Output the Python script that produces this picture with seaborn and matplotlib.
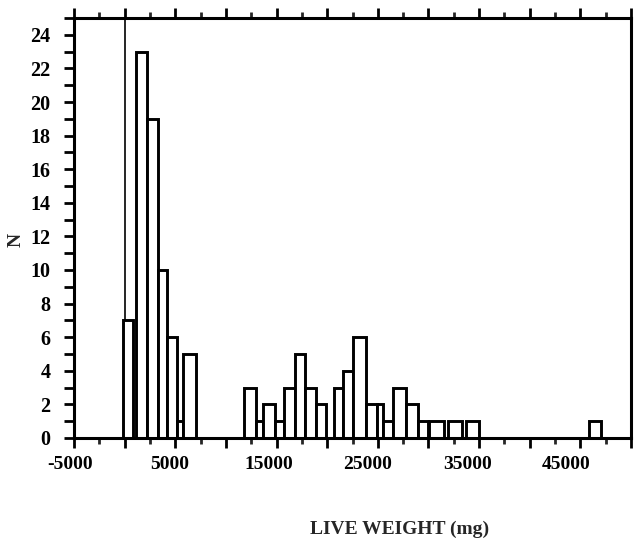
import matplotlib
matplotlib.use("Agg")
import matplotlib.pyplot as plt
import matplotlib.transforms as mtransforms
import seaborn as sns
from matplotlib.ticker import FixedLocator, FuncFormatter

# Histogram bars (mg): left edge, right edge, count
bar_left = [-150, 1100, 2200, 3300, 4200, 5200, 5750,
            11750, 13000, 13650, 14800, 15750, 16850, 17800, 18900,
            20650, 21550, 22550, 23850, 24900, 25500, 26500, 27800, 28950,
            30100, 31950, 33750, 45900]
bar_right = [800, 2200, 3300, 4200, 5200, 5750, 7000,
             13000, 13650, 14800, 15750, 16850, 17800, 18900, 19900,
             21550, 22550, 23850, 24900, 25500, 26500, 27800, 28950, 29950,
             31500, 33300, 34950, 47050]
counts = [7, 23, 19, 10, 6, 1, 5,
          3, 1, 2, 1, 3, 5, 3, 2,
          3, 4, 6, 2, 2, 1, 3, 2, 1,
          1, 1, 1, 1]

xtick_labels = ["-5000", "5000", "15000", "25000", "35000", "45000"]
ytick_labels = ["0", "2", "4", "6", "8", "10", "12", "14", "16", "18", "20", "22", "24"]
x_label = "LIVE WEIGHT (mg)"
y_label = "N"

sns.set_theme(style="ticks")
plt.rcParams["font.family"] = ["Liberation Serif", "DejaVu Serif"]
plt.rcParams["font.weight"] = "bold"

fig = plt.figure(figsize=(6.34, 5.44), dpi=100)
ax = fig.add_axes([0.1167, 0.1949, 0.8786, 0.772])

edges = sorted(set(bar_left) | set(bar_right))
centers = [(l + r) / 2 for l, r in zip(bar_left, bar_right)]
sns.histplot(x=centers, weights=counts, bins=edges, ax=ax,
             color="white", edgecolor="black", linewidth=2.1, alpha=1)

ax.axvline(0, color="black", lw=1.2, zorder=0.5)

ax.set_xlim(-5000, 50000)
ax.set_ylim(0, 25)

xlab_vals = [float(v) for v in xtick_labels]
major_x = list(range(-5000, 50001, 5000))
minor_x = [v + 2500 for v in major_x if v + 2500 < 50000]
ax.xaxis.set_major_locator(FixedLocator(major_x))
ax.xaxis.set_minor_locator(FixedLocator(minor_x))
ax.xaxis.set_major_formatter(FuncFormatter(
    lambda v, p: xtick_labels[xlab_vals.index(v)] if v in xlab_vals else ""))

ylab_vals = [float(v) for v in ytick_labels]
ax.yaxis.set_major_locator(FixedLocator(ylab_vals))
ax.yaxis.set_minor_locator(FixedLocator([v + 1 for v in ylab_vals]))
ax.yaxis.set_major_formatter(FuncFormatter(lambda v, p: f"{int(v)}"))

for s in ax.spines.values():
    s.set_linewidth(2.2)
    s.set_color("black")
    s.set_visible(True)

ax.tick_params(axis="x", which="major", direction="out", length=7, width=2,
               top=True, bottom=True, labeltop=False, labelsize=14, pad=6,
               colors="black")
ax.tick_params(axis="x", which="minor", direction="out", length=4.5, width=2,
               top=True, bottom=True)
ax.tick_params(axis="y", which="both", direction="out", length=7, width=2,
               left=True, right=False, labelsize=14.5, pad=10, colors="black")

fig.canvas.draw()
for lab in ax.get_xticklabels():
    lab.set_fontweight("bold")
    try:
        v = float(lab.get_text().replace("\u2212", "-"))
    except ValueError:
        continue
    dx = -4 - (v + 5000) / 50000 * 10  # pixels, as in the reference print
    lab.set_transform(lab.get_transform() +
                      mtransforms.ScaledTranslation(dx / 100, 0, fig.dpi_scale_trans))
for lab in ax.get_yticklabels():
    lab.set_fontweight("bold")

ax.set_xlabel(x_label, fontsize=14, fontweight="bold")
ax.xaxis.set_label_coords(0.585, -0.197)
ax.set_ylabel(y_label, fontsize=14, fontweight="bold")
ax.yaxis.set_label_coords(-0.089, 0.471)

fig.savefig("out.png", dpi=100, facecolor="white")
